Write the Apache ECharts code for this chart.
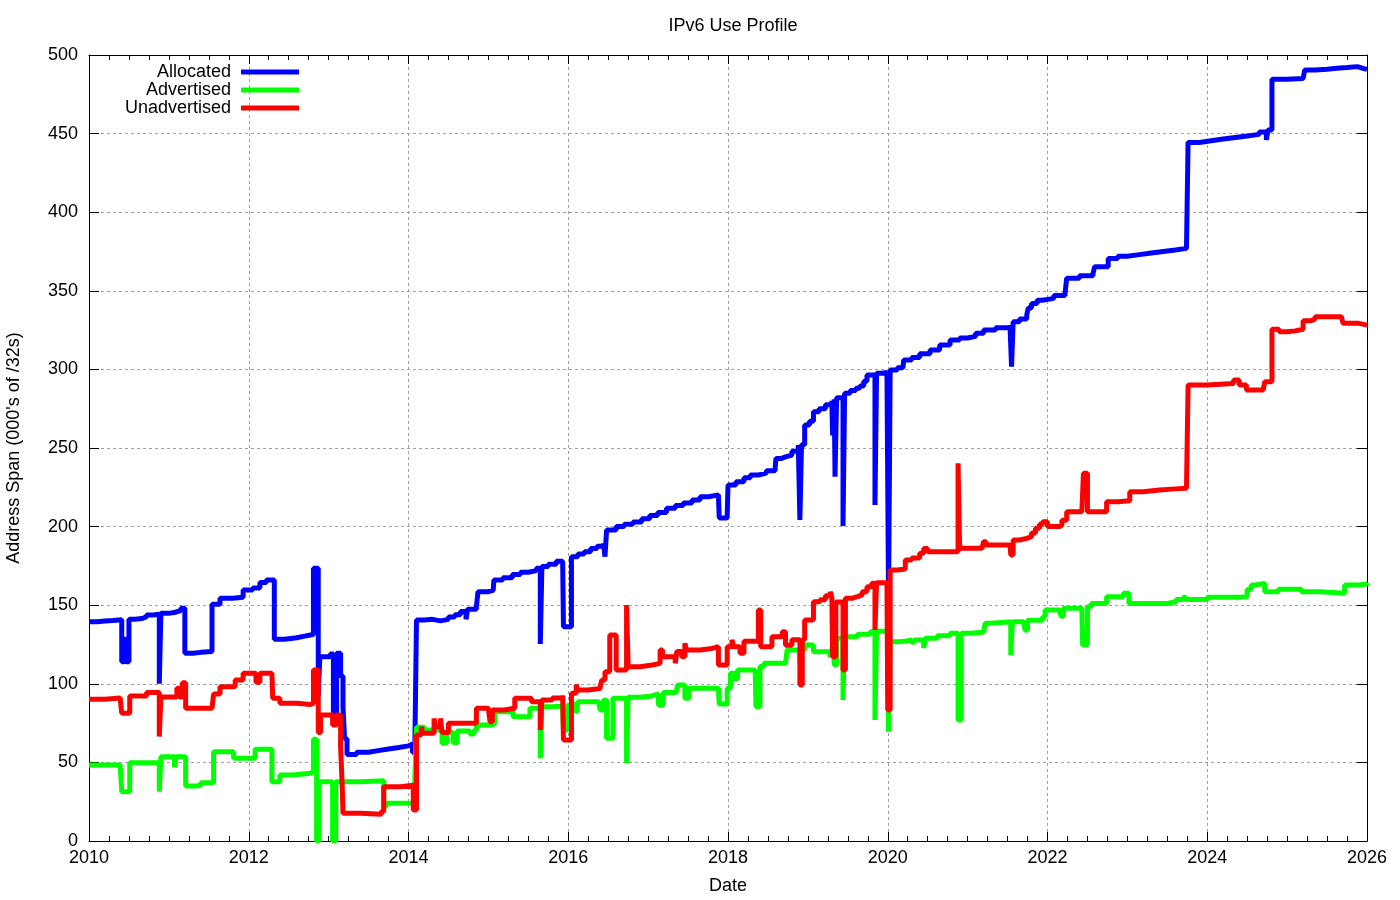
<!DOCTYPE html>
<html>
<head>
<meta charset="utf-8">
<script src="https://cdn.jsdelivr.net/npm/echarts@6/dist/echarts.min.js"></script>
<style>
html,body{margin:0;padding:0;background:#fff;}
#chart{width:1400px;height:900px;}
</style>
</head>
<body>
<div id="chart"></div>
<script>
// [decimal year, thousands of /32s]
const allocated = [
[2010.00,139.5],[2010.10,140],[2010.20,140.3],[2010.30,140.8],
[2010.41,114],[2010.44,130],[2010.46,114],[2010.50,141],
[2010.58,141.5],[2010.66,142.5],[2010.72,143.8],[2010.80,144.3],
[2010.88,100],[2010.90,144.8],[2011.00,145.5],[2011.08,146.5],[2011.15,148],
[2011.20,119.4],[2011.30,120],[2011.40,120.5],
[2011.54,150.6],[2011.64,154.4],[2011.80,155],[2011.93,159.7],[2012.05,161],[2012.14,164.5],[2012.22,166],
[2012.32,128.3],[2012.45,129.3],[2012.60,130.3],[2012.70,131],[2012.77,131.5],
[2012.81,173.5],[2012.87,92],[2012.89,117.2],[2013.02,119],[2013.06,76],[2013.10,119.4],
[2013.15,105],[2013.18,85],[2013.20,65],[2013.23,55],[2013.35,56.5],[2013.50,57.5],[2013.62,58.5],[2013.75,59.5],
[2013.88,60.5],[2014.00,61.7],[2014.05,56.5],[2014.08,62],
[2014.10,140.6],[2014.20,141],[2014.30,140],[2014.40,141],[2014.50,142.5],[2014.58,144],[2014.65,146],[2014.72,141],
[2014.74,147.5],[2014.85,149],[2014.87,158.6],[2015.00,159.5],[2015.06,160.7],[2015.07,166],[2015.18,167.5],[2015.30,169.5],
[2015.40,171],[2015.50,172],[2015.60,173.5],[2015.65,125.3],[2015.67,174.6],[2015.75,176],[2015.85,178],[2015.93,179.2],
[2015.94,136.3],[2016.04,180.9],[2016.12,182.5],[2016.20,184],[2016.28,186],[2016.36,187.5],[2016.44,189.4],[2016.46,180.9],
[2016.48,197.8],[2016.60,200],[2016.70,201.5],[2016.81,203],[2016.92,205],[2017.02,207],[2017.12,209],[2017.23,211.6],
[2017.34,213.5],[2017.44,215],[2017.55,217],[2017.65,219],[2017.76,220.2],[2017.88,221.2],[2017.89,205.5],[2017.99,207],
[2018.00,226.5],[2018.10,228.5],[2018.20,231],[2018.28,232.8],[2018.38,234],[2018.48,235.5],[2018.59,237],[2018.60,243.4],
[2018.67,244.5],[2018.73,245.5],[2018.80,248],[2018.88,251.9],[2018.90,204.2],[2018.92,252],[2018.96,264.6],[2019.02,267],
[2019.07,273.1],[2019.14,275],[2019.22,277.5],[2019.30,280],[2019.31,258],[2019.33,281],[2019.34,231.7],[2019.36,282],
[2019.44,200.4],[2019.46,284.8],[2019.53,286.5],[2019.60,288],[2019.65,289.5],[2019.70,292.5],[2019.74,296.4],[2019.84,213.7],
[2019.86,297.5],[2019.93,298],[2019.99,298.5],[2020.01,153],[2020.03,299.6],[2020.12,301],[2020.19,302],[2020.20,306],
[2020.30,307.5],[2020.40,310],[2020.53,312.3],[2020.65,315.5],[2020.78,318.7],[2020.90,320],[2021.00,321],[2021.10,323],
[2021.20,325],[2021.35,326.5],[2021.53,328.2],[2021.55,301.7],[2021.57,330.3],[2021.65,332],[2021.74,334.6],[2021.76,339],
[2021.80,342],[2021.87,344],[2021.94,345.2],[2022.08,347],[2022.22,348.5],[2022.24,358],[2022.40,359.5],[2022.57,361],
[2022.59,365.3],[2022.76,370.6],[2022.88,372],[2023.00,373],[2023.15,374],[2023.30,375],[2023.45,376],[2023.60,377],
[2023.74,378],[2023.76,444.4],[2023.90,445.5],[2024.05,446.5],[2024.20,447.5],[2024.35,448.5],[2024.50,449.5],[2024.65,451],
[2024.74,446],[2024.76,452.3],[2024.81,484.5],[2025.00,485],[2025.20,485.8],[2025.22,490.5],[2025.35,491],[2025.50,491.5],
[2025.62,492],[2025.75,492.6],[2025.88,491.5],[2025.95,490.8],[2026.00,490.8]
];
const advertised = [
[2010.00,48.3],[2010.39,48.5],[2010.41,31.4],[2010.51,49.8],[2010.88,31.4],[2010.90,53.6],[2011.07,47],[2011.09,53.6],
[2011.21,35],[2011.35,35.5],[2011.40,37.1],[2011.56,56.8],[2011.81,52.6],[2012.08,58.3],[2012.29,37.7],[2012.39,42],
[2012.55,43.1],[2012.77,44],[2012.81,64.7],[2012.85,0],[2012.88,37.7],[2013.05,0],[2013.09,37.7],[2013.40,38.3],
[2013.69,21.8],[2013.72,24],[2014.06,24.5],[2014.08,40],
[2014.10,72.4],[2014.20,70.6],[2014.42,62.2],[2014.48,69],[2014.56,62.5],[2014.61,70],[2014.77,68],[2014.82,70.5],
[2014.85,73.8],[2015.05,75],[2015.08,82.2],[2015.31,79],[2015.52,84.4],[2015.65,52.6],[2015.67,85.4],[2015.80,85.8],[2015.93,86.3],
[2015.94,70.6],[2015.99,86.3],[2016.04,87.1],[2016.10,81.2],[2016.12,88.6],[2016.38,88.6],[2016.40,83.3],[2016.44,89.5],
[2016.48,65.3],[2016.56,90.8],[2016.73,49.4],[2016.75,91.5],[2016.90,92.3],[2017.05,93.5],[2017.13,86.3],[2017.19,94.4],[2017.35,94.4],
[2017.37,99.2],[2017.46,90.8],[2017.51,97.1],[2017.88,97.5],[2017.89,87.1],[2017.99,97.1],[2018.03,106.7],[2018.08,103],
[2018.12,108.8],[2018.34,108.8],[2018.35,85.4],[2018.40,111],[2018.45,113],[2018.72,113],[2018.74,121.5],[2018.90,113],
[2018.92,121.5],[2018.96,124.7],[2019.07,120.4],[2019.27,120.4],[2019.28,117],[2019.30,120.4],[2019.32,129],[2019.33,112],
[2019.36,129],[2019.44,89.7],[2019.46,130],[2019.62,131.5],[2019.78,133.1],[2019.84,77],[2019.86,133.5],[2020.00,134.2],[2020.01,69.5],
[2020.03,126.8],[2020.15,127.3],[2020.24,127.9],[2020.30,126.5],[2020.33,127.9],[2020.45,122.7],[2020.47,129],[2020.62,130.5],[2020.78,132.1],[2020.88,77],
[2020.92,132.1],[2021.05,133],[2021.20,134.2],[2021.22,138.5],[2021.30,139.5],[2021.54,118.3],[2021.56,139.5],[2021.70,140],[2021.72,134],
[2021.75,140.5],[2021.94,142.7],[2021.97,147],[2022.15,147],[2022.17,143],[2022.20,148],[2022.43,149],[2022.44,124.7],
[2022.50,149],[2022.55,151.1],[2022.74,155.4],[2022.95,157.6],[2023.02,151.1],[2023.50,152.2],[2023.61,153.7],[2023.70,155],
[2023.73,153.7],[2024.00,155],[2024.40,155.4],[2024.50,160],[2024.55,162.8],[2024.60,163.9],[2024.72,158.6],[2024.89,160.1],
[2025.15,160.1],[2025.18,158.6],[2025.41,157.6],[2025.72,162.8],[2025.90,163.5],[2026.00,162.5]
];
const unadvertised = [
[2010.00,90.1],[2010.20,91],[2010.39,91.6],[2010.41,81.2],[2010.51,92.2],[2010.72,94.4],[2010.88,66.4],[2010.90,91.6],
[2011.10,97.1],[2011.13,91.6],[2011.17,100.7],[2011.21,84.4],[2011.54,83.3],[2011.56,93.5],[2011.64,98.2],[2011.83,102.4],
[2011.93,106.7],[2012.09,101],[2012.14,106.7],[2012.29,107.7],[2012.30,90.8],[2012.39,87.6],[2012.60,86.9],[2012.77,87.6],
[2012.81,108.8],[2012.87,69],[2012.90,80.2],[2013.02,80.2],[2013.05,73.8],[2013.10,80.2],[2013.15,60],[2013.17,35],
[2013.18,17.6],[2013.40,17],[2013.66,18.7],[2013.69,34.5],[2013.90,35.5],[2014.06,19.7],
[2014.10,67.4],[2014.16,72.7],[2014.18,68.5],[2014.32,78],[2014.34,72.7],[2014.40,78],[2014.42,69],[2014.50,74.9],
[2014.85,84.4],[2015.00,85.4],[2015.02,75.9],[2015.05,83.3],[2015.20,84.5],[2015.33,90.8],[2015.54,88.6],[2015.65,70.6],[2015.67,89.7],
[2015.80,91],[2015.93,92.7],[2015.94,64.2],[2016.04,94],[2016.10,99.5],[2016.12,96],[2016.25,97],[2016.40,98.3],[2016.42,102.4],[2016.46,107.7],
[2016.52,131],[2016.60,108.8],[2016.73,150.1],[2016.75,110.9],[2016.90,112],[2017.05,113],[2017.15,121.5],[2017.18,117.2],[2017.34,113],
[2017.36,120.6],[2017.42,117.2],[2017.46,125.8],[2017.48,121.5],[2017.65,122.5],[2017.80,123.6],[2017.88,112],[2017.99,123.6],[2018.05,128],
[2018.07,123.6],[2018.15,119.4],[2018.20,127],[2018.38,147],[2018.41,123.6],[2018.55,130],[2018.68,133.1],[2018.72,124.6],
[2018.80,128],[2018.90,99.2],[2018.93,128],[2018.96,140.6],[2019.07,152.2],[2019.15,153.5],[2019.22,156],[2019.28,158.6],[2019.30,155],[2019.31,117.2],
[2019.35,152],[2019.44,108.8],[2019.47,154.4],[2019.55,155.5],[2019.62,156.5],[2019.68,158.5],[2019.74,161.8],[2019.80,164],[2019.84,134.2],[2019.86,164.3],
[2019.99,164.3],[2020.00,83.3],[2020.03,172.4],[2020.12,173],[2020.22,178.7],[2020.30,180],[2020.40,183],[2020.45,186],[2020.50,184],[2020.78,184],
[2020.88,240.3],[2020.90,186.2],[2021.18,186.5],[2021.20,190.4],[2021.23,188.3],[2021.53,188.5],[2021.54,182],[2021.57,191.5],
[2021.65,192.5],[2021.74,193.6],[2021.80,196],[2021.85,199],[2021.90,201.5],[2021.94,203.1],[2022.00,200],[2022.15,201],[2022.18,204],[2022.24,209.5],[2022.43,210.5],
[2022.45,233.9],[2022.50,209.5],[2022.74,215.8],[2022.88,216.5],[2023.03,222.2],[2023.20,223.3],[2023.40,224],[2023.60,224.4],[2023.74,224.8],[2023.76,290],
[2024.00,291],[2024.33,293.3],[2024.40,290],[2024.49,286.9],[2024.70,287],[2024.72,292.2],[2024.81,325.5],[2024.90,324],[2025.00,324.5],[2025.10,325.5],[2025.20,331],
[2025.30,332],[2025.35,333.5],[2025.68,333.5],[2025.70,329.3],[2025.90,328.2],[2026.00,328]
];
const seriesNames = ['Allocated','Advertised','Unadvertised'];
const seriesColors = ['#0000ff','#00ff00','#ff0000'];
const xRange = [2010, 2026];
const yRange = [0, 500];

const FONT = 'Liberation Sans, Arial, sans-serif';
const chart = echarts.init(document.getElementById('chart'), null, {renderer:'canvas'});
const gridLine = {show:true, lineStyle:{color:'#a0a0a0', type:[3,3], width:1}};
const axisLineBlack = {show:true, onZero:false, lineStyle:{color:'#000', width:1}};
const baseX = {
  type:'value', min:xRange[0], max:xRange[1], interval:2,
  axisLine:axisLineBlack,
  axisTick:{show:true, inside:true, length:9, lineStyle:{color:'#000'}},
  minorTick:{show:true, splitNumber:8, length:5, lineStyle:{color:'#000'}},
  minorSplitLine:{show:false}
};
const baseY = {
  type:'value', min:yRange[0], max:yRange[1], interval:50,
  axisLine:axisLineBlack,
  axisTick:{show:true, inside:true, length:10, lineStyle:{color:'#000'}}
};
const data = [allocated, advertised, unadvertised];
chart.setOption({
  animation:false,
  backgroundColor:'#fff',
  title:{text:'IPv6 Use Profile', left:728, top:12, textAlign:'center',
    textStyle:{fontFamily:FONT, fontSize:18, fontWeight:'normal', color:'#000'}},
  legend:{
    orient:'vertical', left:125, top:63, align:'right', padding:0, itemGap:0,
    icon:'rect', itemWidth:58, itemHeight:5,
    textStyle:{fontFamily:FONT, fontSize:18, color:'#000', lineHeight:18, padding:[0,5,0,0]},
    data:seriesNames
  },
  grid:{left:89, right:33, top:55, bottom:59, outerBoundsMode:'none', containLabel:false},
  xAxis:[
    Object.assign({}, baseX, {position:'bottom',
      name:'Date', nameLocation:'middle', nameGap:36,
      nameTextStyle:{fontFamily:FONT, fontSize:18, color:'#000'},
      axisLabel:{show:true, margin:8, fontFamily:FONT, fontSize:18, color:'#000', formatter:v=>String(v)},
      splitLine:gridLine}),
    Object.assign({}, baseX, {position:'top', axisLabel:{show:false}, splitLine:{show:false}})
  ],
  yAxis:[
    Object.assign({}, baseY, {position:'left',
      name:"Address Span (000's of /32s)", nameLocation:'middle', nameGap:66, nameRotate:90,
      nameTextStyle:{fontFamily:FONT, fontSize:18, color:'#000'},
      axisLabel:{show:true, margin:11, fontFamily:FONT, fontSize:18, color:'#000'},
      splitLine:gridLine}),
    Object.assign({}, baseY, {position:'right', axisLabel:{show:false}, splitLine:{show:false}})
  ],
  series: seriesNames.map((n,i)=>({
    name:n, type:'line', step:'end', showSymbol:false, symbol:'none',
    xAxisIndex:0, yAxisIndex:0,
    data:data[i], color:seriesColors[i],
    lineStyle:{width:5, color:seriesColors[i], join:'bevel', cap:'butt'},
    emphasis:{disabled:true}
  }))
});
</script>
</body>
</html>
